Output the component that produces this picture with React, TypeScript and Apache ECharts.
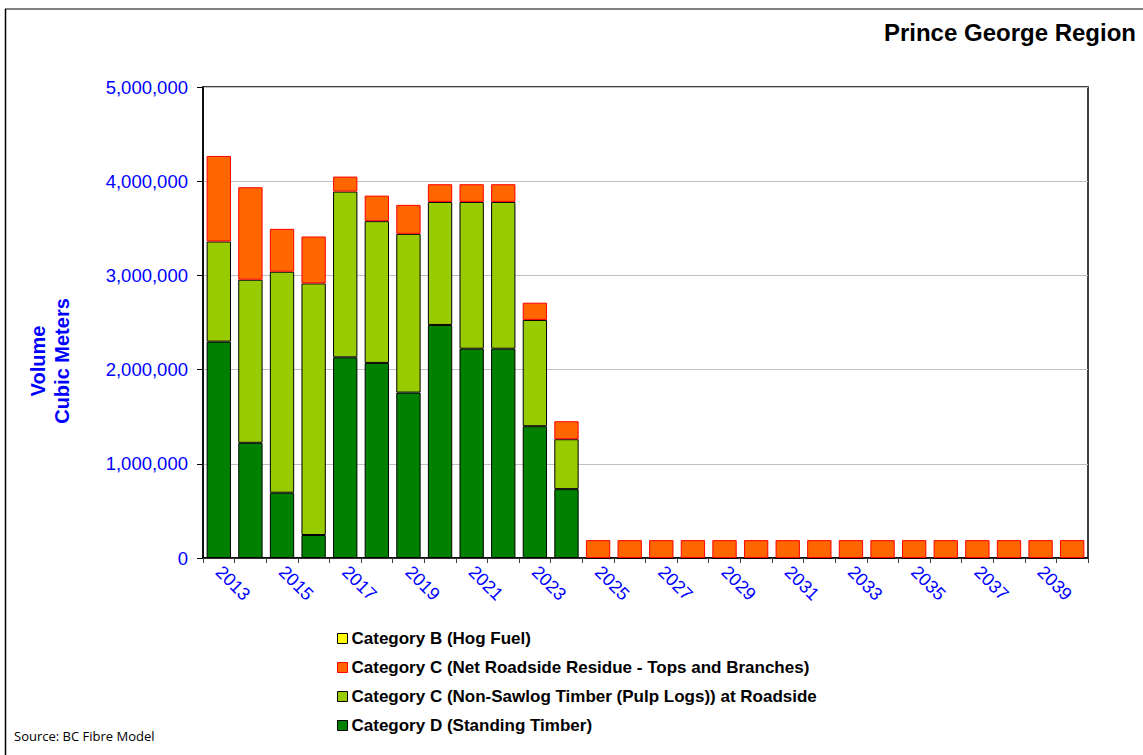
import React, { useEffect, useRef } from "react";
import * as echarts from "echarts";

const years = [
  "2013","2014","2015","2016","2017","2018","2019","2020","2021","2022",
  "2023","2024","2025","2026","2027","2028","2029","2030","2031","2032",
  "2033","2034","2035","2036","2037","2038","2039","2040",
];

const catD_standing = [
  2297000, 1223000, 693000, 244000, 2130000, 2071000, 1756000, 2474000, 2222000, 2222000,
  1399000, 731000, 0, 0, 0, 0, 0, 0, 0, 0, 0, 0, 0, 0, 0, 0, 0, 0,
];

const catC_pulp = [
  1063000, 1731000, 2346000, 2671000, 1760000, 1505000, 1685000, 1306000, 1558000, 1558000,
  1128000, 530000, 0, 0, 0, 0, 0, 0, 0, 0, 0, 0, 0, 0, 0, 0, 0, 0,
];

const catC_residue = [
  908000, 982000, 455000, 498000, 159000, 271000, 308000, 188000, 188000, 188000,
  183000, 191000, 190000, 190000, 190000, 190000, 190000, 190000, 190000, 190000,
  190000, 190000, 190000, 190000, 190000, 190000, 190000, 190000,
];

const catB_hog = [
  0, 0, 0, 0, 0, 0, 0, 0, 0, 0, 0, 0, 0, 0, 0, 0, 0, 0, 0, 0, 0, 0, 0, 0, 0, 0, 0, 0,
];

const NAME_B = "Category B (Hog Fuel)";
const NAME_RES = "Category C (Net Roadside Residue - Tops and Branches)";
const NAME_PULP = "Category C (Non-Sawlog Timber (Pulp Logs)) at Roadside";
const NAME_D = "Category D (Standing Timber)";

const FONT = "'Liberation Sans', Arial, sans-serif";

export default function App() {
  const ref = useRef<HTMLDivElement>(null);

  useEffect(() => {
    if (!ref.current) return;
    const chart = echarts.init(ref.current, undefined, { renderer: "svg" });
    const option = {
      animation: false,
      backgroundColor: "#ffffff",
      textStyle: { fontFamily: FONT },
      grid: {
        left: 203,
        top: 87,
        width: 885,
        height: 471,
        show: true,
        borderColor: "#000000",
        borderWidth: 1.5,
        backgroundColor: "transparent",
      },
      graphic: [
        {
          type: "line",
          shape: { x1: 5, y1: 9, x2: 1143, y2: 9 },
          style: { stroke: "#808080", lineWidth: 2 },
        },
        {
          type: "line",
          shape: { x1: 5.5, y1: 9, x2: 5.5, y2: 755 },
          style: { stroke: "#000000", lineWidth: 1.5 },
        },
        {
          type: "text",
          right: 7,
          top: 20,
          style: {
            text: "Prince George Region",
            font: `bold 24px ${FONT}`,
            fill: "#000000",
          },
        },
        {
          type: "text",
          x: 38,
          y: 361,
          rotation: Math.PI / 2,
          style: {
            text: "Volume",
            font: `bold 20px ${FONT}`,
            fill: "#0000FF",
            align: "center",
            verticalAlign: "middle",
          },
        },
        {
          type: "text",
          x: 62,
          y: 361,
          rotation: Math.PI / 2,
          style: {
            text: "Cubic Meters",
            font: `bold 20px ${FONT}`,
            fill: "#0000FF",
            align: "center",
            verticalAlign: "middle",
          },
        },
        {
          type: "text",
          x: 14,
          y: 736,
          style: {
            text: "Source: BC Fibre Model",
            font: `13px 'Open Sans', ${FONT}`,
            fill: "#000000",
            verticalAlign: "middle",
          },
        },
      ],
      legend: {
        orient: "vertical",
        left: 332,
        top: 625,
        itemWidth: 10,
        itemHeight: 10,
        itemGap: 12,
        icon: "rect",
        textStyle: {
          fontFamily: FONT,
          fontSize: 17,
          fontWeight: "bold",
          color: "#000000",
          padding: [0, 0, 0, -1],
        },
        data: [
          { name: NAME_B, itemStyle: { color: "#FFFF00", borderColor: "#000000", borderWidth: 1 } },
          { name: NAME_RES, itemStyle: { color: "#FF6600", borderColor: "#FF0000", borderWidth: 1 } },
          { name: NAME_PULP, itemStyle: { color: "#99CC00", borderColor: "#000000", borderWidth: 1 } },
          { name: NAME_D, itemStyle: { color: "#008000", borderColor: "#000000", borderWidth: 1 } },
        ],
      },
      xAxis: {
        type: "category",
        data: years,
        boundaryGap: true,
        axisLine: { show: true, lineStyle: { color: "#000000", width: 1.5 } },
        axisTick: {
          show: true,
          interval: 0,
          length: 5,
          lineStyle: { color: "#404040" },
        },
        axisLabel: {
          interval: 1,
          rotate: -45,
          color: "#0000FF",
          fontSize: 18,
          fontFamily: FONT,
          margin: 11,
        },
        splitLine: { show: false },
      },
      yAxis: {
        type: "value",
        min: 0,
        max: 5000000,
        interval: 1000000,
        axisLine: { show: true, lineStyle: { color: "#000000", width: 1.5 } },
        axisTick: { show: true, length: 6, lineStyle: { color: "#000000" } },
        axisLabel: {
          color: "#0000FF",
          fontSize: 18.5,
          fontFamily: FONT,
          margin: 15,
          formatter: (v: number) => v.toLocaleString("en-US"),
        },
        splitLine: { show: true, lineStyle: { color: "#C0C0C0", width: 1 } },
      },
      series: [
        {
          name: NAME_D,
          type: "bar",
          stack: "total",
          data: catD_standing,
          barCategoryGap: "23%",
          itemStyle: { color: "#008000", borderColor: "#000000", borderWidth: 1 },
        },
        {
          name: NAME_PULP,
          type: "bar",
          stack: "total",
          data: catC_pulp,
          itemStyle: { color: "#99CC00", borderColor: "#000000", borderWidth: 1 },
        },
        {
          name: NAME_RES,
          type: "bar",
          stack: "total",
          data: catC_residue,
          itemStyle: { color: "#FF6600", borderColor: "#FF0000", borderWidth: 1 },
        },
        {
          name: NAME_B,
          type: "bar",
          stack: "total",
          data: catB_hog,
          itemStyle: { color: "#FFFF00", borderColor: "#000000", borderWidth: 0 },
        },
      ],
    };
    chart.setOption(option as any);
    return () => chart.dispose();
  }, []);

  return (
    <div
      ref={ref}
      style={{ position: "fixed", left: 0, top: 0, width: 1143, height: 755, background: "#fff" }}
    />
  );
}
